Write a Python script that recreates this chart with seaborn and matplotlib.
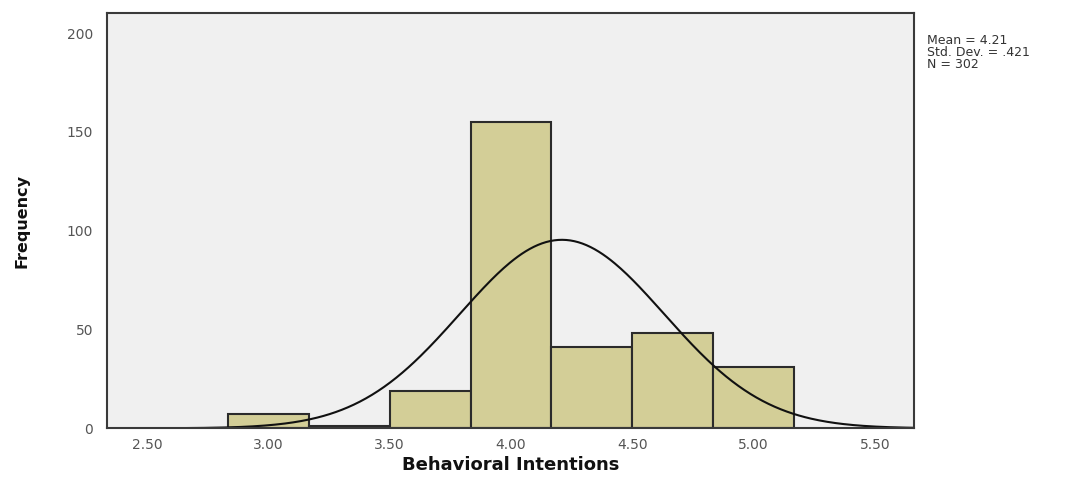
import numpy as np
import pandas as pd
import matplotlib
matplotlib.use("Agg")
import matplotlib.pyplot as plt
import seaborn as sns

# Data
bin_edges = [2.8333, 3.1667, 3.5, 3.8333, 4.1667, 4.5, 4.8333, 5.1667]
bin_counts = [7, 1, 19, 155, 41, 48, 31]
stat_mean = 4.21
stat_sd = 0.421
stat_n = 302
x_ticks = [2.5, 3.0, 3.5, 4.0, 4.5, 5.0, 5.5]
x_tick_labels = ["2.50", "3.00", "3.50", "4.00", "4.50", "5.00", "5.50"]
y_ticks = [0, 50, 100, 150, 200]
x_label = "Behavioral Intentions"
y_label = "Frequency"

sns.set_theme(style="white")
plt.rcParams['font.family'] = ['DejaVu Sans']

fig = plt.figure(figsize=(10.87, 4.78), dpi=100)
ax = fig.add_axes([0.0984, 0.104, 0.7427, 0.8695])
ax.set_facecolor("#f0f0f0")

centers = [(bin_edges[i] + bin_edges[i + 1]) / 2 for i in range(len(bin_counts))]
df = pd.DataFrame({"x": centers, "w": bin_counts})
sns.histplot(data=df, x="x", weights="w", bins=bin_edges, ax=ax,
             color="#d3ce97", alpha=1.0, edgecolor="#2b2b2b", linewidth=1.5)

# fitted normal curve from stated Mean / Std. Dev. / N
binw = bin_edges[1] - bin_edges[0]
xs = np.linspace(2.335, 5.662, 400)
ys = stat_n * binw * np.exp(-0.5 * ((xs - stat_mean) / stat_sd) ** 2) / (stat_sd * np.sqrt(2 * np.pi))
sns.lineplot(x=xs, y=ys, ax=ax, color="#111111", linewidth=1.5)

ax.set_xlim(2.335, 5.662)
ax.set_ylim(0, 210.4)
ax.set_xticks(x_ticks)
ax.set_xticklabels(x_tick_labels)
ax.set_yticks(y_ticks)
ax.tick_params(axis="both", which="both", direction="out", length=5, width=1.3,
               color="#333333", labelcolor="#555555", labelsize=10)
ax.tick_params(axis="y", length=8, pad=2)
ax.tick_params(axis="x", pad=2)
for s in ax.spines.values():
    s.set_color("#3a3a3a")
    s.set_linewidth(1.5)

ax.set_xlabel(x_label, fontsize=13, fontweight="bold", color="#111111", labelpad=3)
ax.set_ylabel("")
fig.text(0.02, 0.537, y_label, rotation=90, ha="center", va="center",
         fontsize=11.5, fontweight="bold", color="#111111",
         family=["Liberation Sans Narrow", "DejaVu Sans"])

fig.text(0.853, 0.89, "Mean = 4.21\nStd. Dev. = .421\nN = 302",
         ha="left", va="center", fontsize=9, color="#333333", linespacing=0.92)

fig.savefig("out.png", dpi=100, facecolor="white")
